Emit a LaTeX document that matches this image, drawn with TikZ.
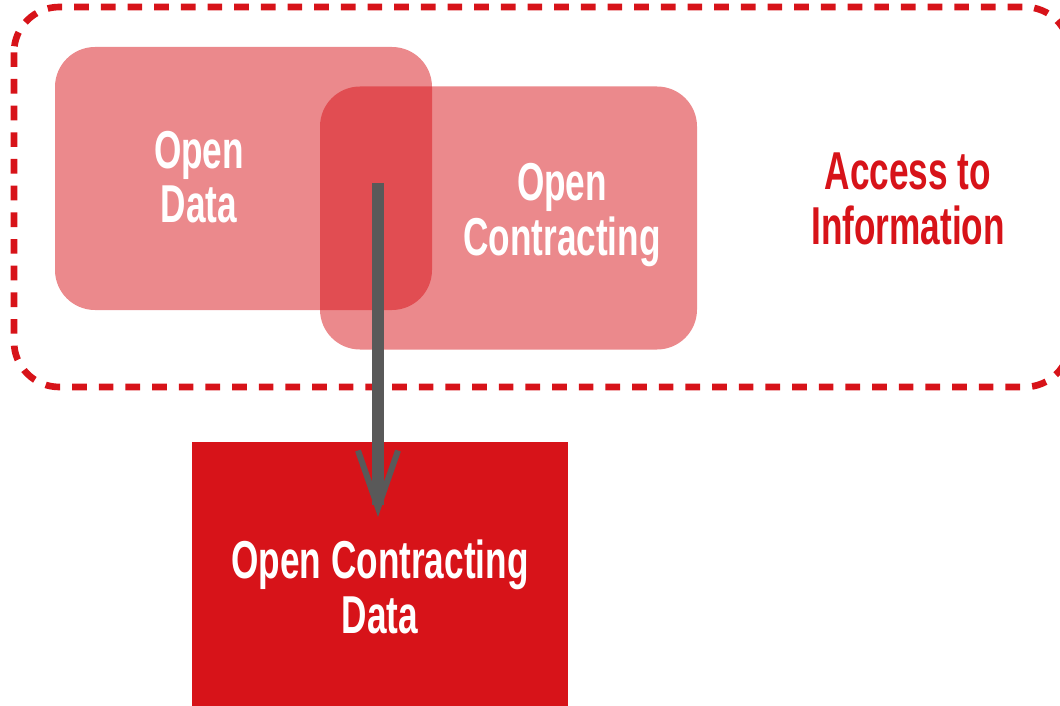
\documentclass[tikz,border=0pt]{standalone}
\usepackage{fontspec}
\newfontfamily\condfont[FakeStretch=0.66,UprightFont={* Bold}]{Liberation Sans}
\usetikzlibrary{arrows.meta}
\definecolor{ocred}{HTML}{D71319}
\definecolor{arrowgray}{HTML}{595959}
\begin{document}
\begin{tikzpicture}[x=0.75pt,y=-0.75pt,
  area/.style={draw=ocred,line width=5pt,dash pattern=on 11pt off 9pt,rounded corners=34pt},
  setbox/.style={fill=ocred,fill opacity=0.5,rounded corners=30pt,
    minimum width=282.75pt,minimum height=197.25pt,inner sep=0pt},
  databox/.style={fill=ocred,minimum width=282pt,minimum height=217.5pt,inner sep=0pt,
    font=\condfont\fontsize{40}{41}\selectfont,text=white,align=center},
  settext/.style={font=\condfont\fontsize{40}{41}\selectfont,text=white,align=center}]
  \clip (0,0) rectangle (1060,706);
  \draw[area] (14,7) rectangle (1070,387);
  \node[setbox] (od) at (243.5,178.5) {};
  \node[setbox] (oc) at (508.5,218) {};
  \node[databox] (ocd) at (380,587) {Open Contracting\\Data};
  \coordinate (arrowstart) at (378,183);
  \coordinate (arrowend) at (378,517);
  \draw[arrowgray,line width=9pt,-{Straight Barb[length=43pt,width=30pt,line width=4.5pt]}]
    (arrowstart) -- (arrowend);
  \node[settext] (odtext) at (199,177) {Open\\Data};
  \node[settext] (octext) at (562,215) {Open\\Contracting};
  \node[settext,text=ocred] (ati) at (908,199) {Access to\\Information};
\end{tikzpicture}
\end{document}
